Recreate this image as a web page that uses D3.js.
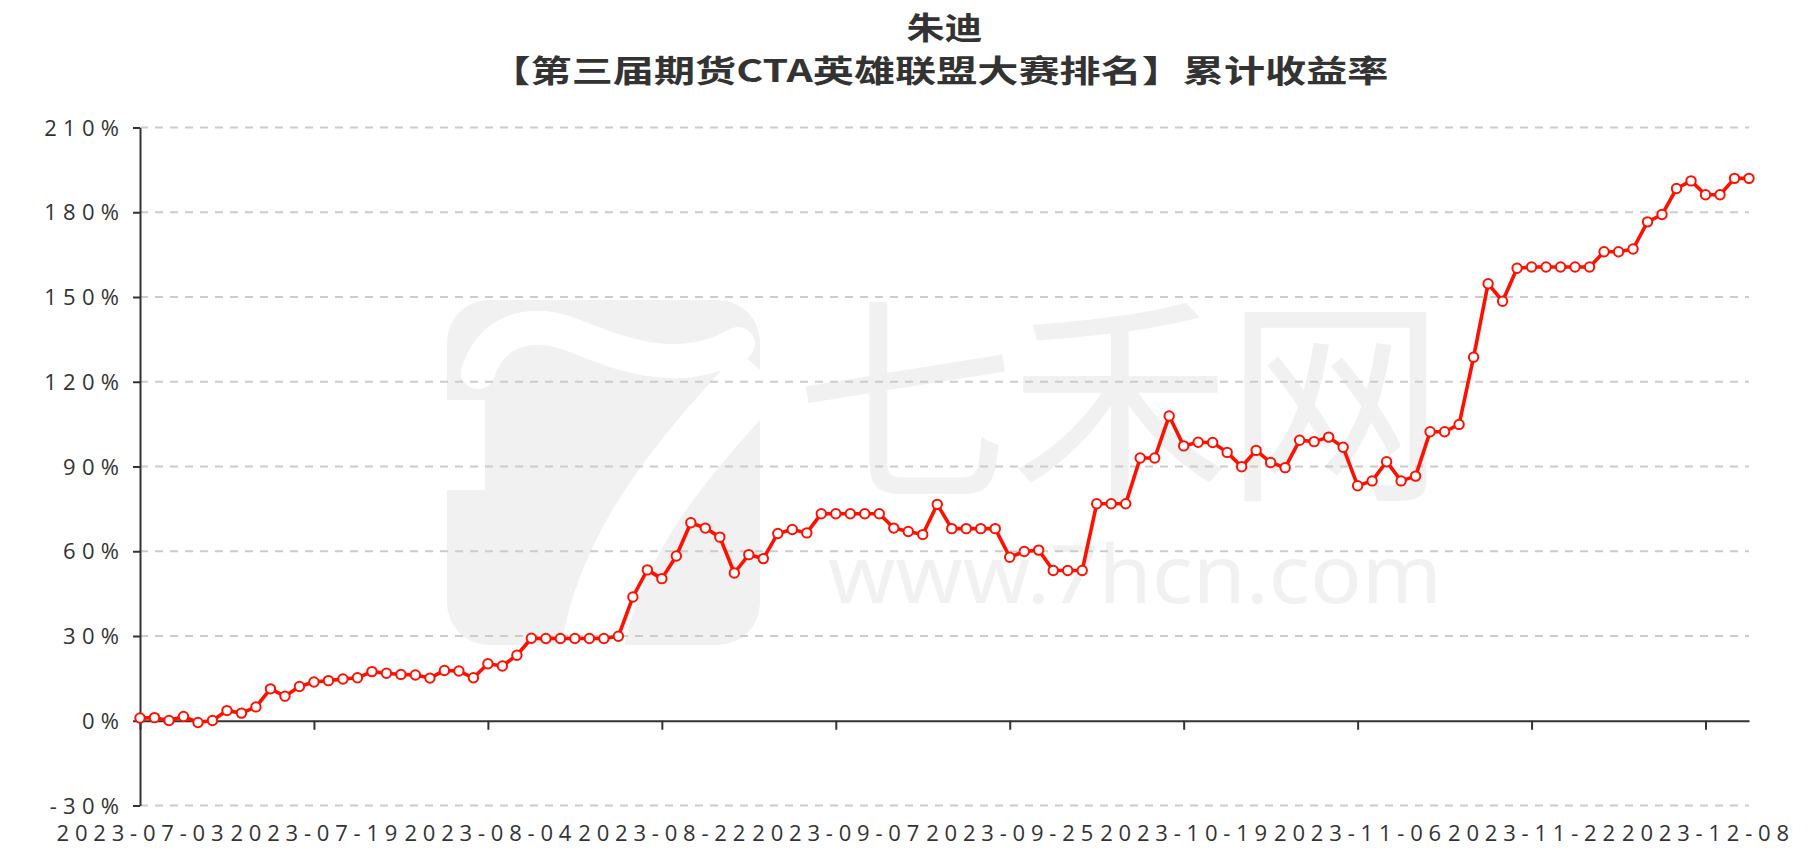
<!DOCTYPE html>
<html>
<head>
<meta charset="utf-8">
<script src="https://cdn.jsdelivr.net/npm/d3@7"></script>
<style>
  html, body { margin: 0; padding: 0; background: #fff; }
  svg { display: block; }
</style>
</head>
<body>
<svg id="chart" width="1817" height="861"></svg>
<script>
const titleLine1 = "朱迪";
const titleLine2 = "【第三届期货CTA英雄联盟大赛排名】累计收益率";

const dates = [
  "2023-07-03","2023-07-04","2023-07-05","2023-07-06","2023-07-07","2023-07-10","2023-07-11","2023-07-12",
  "2023-07-13","2023-07-14","2023-07-17","2023-07-18","2023-07-19","2023-07-20","2023-07-21","2023-07-24",
  "2023-07-25","2023-07-26","2023-07-27","2023-07-28","2023-07-31","2023-08-01","2023-08-02","2023-08-03",
  "2023-08-04","2023-08-07","2023-08-08","2023-08-09","2023-08-10","2023-08-11","2023-08-14","2023-08-15",
  "2023-08-16","2023-08-17","2023-08-18","2023-08-21","2023-08-22","2023-08-23","2023-08-24","2023-08-25",
  "2023-08-28","2023-08-29","2023-08-30","2023-08-31","2023-09-01","2023-09-04","2023-09-05","2023-09-06",
  "2023-09-07","2023-09-08","2023-09-11","2023-09-12","2023-09-13","2023-09-14","2023-09-15","2023-09-18",
  "2023-09-19","2023-09-20","2023-09-21","2023-09-22","2023-09-25","2023-09-26","2023-09-27","2023-09-28",
  "2023-10-09","2023-10-10","2023-10-11","2023-10-12","2023-10-13","2023-10-16","2023-10-17","2023-10-18",
  "2023-10-19","2023-10-20","2023-10-23","2023-10-24","2023-10-25","2023-10-26","2023-10-27","2023-10-30",
  "2023-10-31","2023-11-01","2023-11-02","2023-11-03","2023-11-06","2023-11-07","2023-11-08","2023-11-09",
  "2023-11-10","2023-11-13","2023-11-14","2023-11-15","2023-11-16","2023-11-17","2023-11-20","2023-11-21",
  "2023-11-22","2023-11-23","2023-11-24","2023-11-27","2023-11-28","2023-11-29","2023-11-30","2023-12-01",
  "2023-12-04","2023-12-05","2023-12-06","2023-12-07","2023-12-08","2023-12-11","2023-12-12","2023-12-13"
];

const returns = [
  1.0, 1.1, 0.1, 1.5, -0.6, 0.1, 3.6, 2.7, 4.9, 11.3, 8.7, 12.1,
  13.7, 14.2, 14.8, 15.2, 17.4, 16.8, 16.4, 16.2, 15.1, 17.8, 17.6, 15.2,
  20.2, 19.4, 23.2, 29.2, 29.1, 29.1, 29.1, 29.1, 29.1, 29.9, 43.8, 53.4,
  50.3, 58.3, 70.1, 68.2, 65.0, 52.3, 58.8, 57.4, 66.3, 67.7, 66.5, 73.3,
  73.3, 73.3, 73.3, 73.3, 68.2, 67.0, 65.9, 76.6, 68.0, 68.0, 68.0, 68.0,
  57.9, 59.9, 60.4, 53.2, 53.2, 53.2, 76.8, 76.8, 76.8, 93.0, 93.0, 107.9,
  97.3, 98.6, 98.5, 95.0, 89.9, 95.7, 91.4, 89.6, 99.3, 98.8, 100.4, 96.8,
  83.2, 84.9, 91.7, 84.9, 86.6, 102.3, 102.3, 104.9, 128.7, 154.7, 148.5, 160.2,
  160.6, 160.6, 160.6, 160.6, 160.6, 166.0, 166.0, 167.0, 176.6, 179.2, 188.4, 191.1,
  186.2, 186.2, 192.0, 192.0
];

const yTicks = [-30, 0, 30, 60, 90, 120, 150, 180, 210];
const xLabelInterval = 12;
const watermarkCN = "七禾网";
const watermarkURL = "www.7hcn.com";

(function () {
const svg = d3.select("#chart");
const gLeft = 140, gRight = 1749, gTop = 127.5, gBottom = 805.5;

const x = d3.scalePoint().domain(dates).range([gLeft, gRight]);
const y = d3.scaleLinear().domain([-30, 210]).range([gBottom, gTop]);

// watermark
const wm = svg.append("g").attr("class", "watermark");
const wmColor = "#f1f1f1";
wm.append("rect").attr("x", 447).attr("y", 300).attr("width", 313).attr("height", 345)
  .attr("rx", 42).attr("fill", wmColor);
wm.append("path")
  .attr("d", "M 478 372 C 492 330, 530 318, 575 336 S 680 378, 738 344")
  .attr("fill", "none").attr("stroke", "#fff").attr("stroke-width", 34).attr("stroke-linecap", "round");
wm.append("path")
  .attr("d", "M 762 372 C 700 440, 612 530, 592 650")
  .attr("fill", "none").attr("stroke", "#fff").attr("stroke-width", 62);
wm.append("rect").attr("x", 447).attr("y", 400).attr("width", 38).attr("height", 90).attr("fill", "#fff");
const wmText = wm.append("text").attr("fill", wmColor);
wmText.append("tspan").attr("x", 795).attr("y", 484)
  .attr("font-family", "'Noto Sans CJK SC', sans-serif").attr("font-size", 220)
  .attr("textLength", 650).attr("lengthAdjust", "spacing")
  .text(watermarkCN);
wmText.append("tspan").attr("x", 828).attr("y", 603)
  .attr("font-family", "'Noto Sans', sans-serif").attr("font-size", 80)
  .attr("textLength", 614).attr("lengthAdjust", "spacingAndGlyphs")
  .text(watermarkURL);

// grid lines
svg.append("g").selectAll("line").data(yTicks.filter(d => d !== 0)).join("line")
  .attr("x1", gLeft).attr("x2", gRight)
  .attr("y1", d => y(d)).attr("y2", d => y(d))
  .attr("stroke", "#ccc").attr("stroke-width", 2).attr("stroke-dasharray", "8,7");

// y axis
const yLetter = 6.3;
const yAxis = svg.append("g").attr("transform", `translate(${gLeft},0)`)
  .call(d3.axisLeft(y).tickValues(yTicks).tickSize(7).tickSizeOuter(0).tickPadding(7.7).tickFormat(d => d + "%"));
yAxis.select(".domain").attr("stroke", "#333").attr("stroke-width", 2);
yAxis.selectAll(".tick line").attr("stroke", "#333").attr("stroke-width", 2);
yAxis.selectAll(".tick text")
  .attr("font-family", "'Open Sans', sans-serif").attr("font-size", 22)
  .attr("fill", "#333").attr("dy", "0.35em").attr("letter-spacing", yLetter);

// x axis at zero
const tickDates = dates.filter((d, i) => i % xLabelInterval === 0);
const xAxis = svg.append("g").attr("transform", `translate(0,${y(0)})`)
  .call(d3.axisBottom(x).tickValues(tickDates).tickSize(9).tickSizeOuter(0).tickFormat(""));
xAxis.select(".domain").attr("stroke", "#333").attr("stroke-width", 2);
xAxis.selectAll(".tick line").attr("stroke", "#333").attr("stroke-width", 2);

// x labels at bottom
const xLetter = 5.8;
svg.append("g").selectAll("text").data(tickDates).join("text")
  .attr("x", d => x(d) + xLetter / 2).attr("y", 832)
  .attr("text-anchor", "middle").attr("dominant-baseline", "central")
  .attr("font-family", "'Open Sans', sans-serif").attr("font-size", 22)
  .attr("letter-spacing", xLetter)
  .attr("fill", "#333").text(d => d);

// line
const pts = dates.map((d, i) => [d, returns[i]]);
svg.append("path").datum(pts)
  .attr("d", d3.line().x(d => x(d[0])).y(d => y(d[1])))
  .attr("fill", "none").attr("stroke", "#ff1000").attr("stroke-width", 3.6)
  .attr("stroke-linejoin", "round");
svg.append("g").selectAll("circle").data(pts).join("circle")
  .attr("cx", d => x(d[0])).attr("cy", d => y(d[1])).attr("r", 4.7)
  .attr("fill", "#fff").attr("stroke", "#ff1000").attr("stroke-width", 2);

// titles
svg.append("text").attr("x", 944.5).attr("y", 25)
  .attr("text-anchor", "middle").attr("dominant-baseline", "central")
  .attr("font-family", "'Noto Sans CJK SC', sans-serif").attr("font-weight", "bold")
  .attr("font-size", 31).attr("fill", "#333")
  .attr("textLength", 76).attr("lengthAdjust", "spacingAndGlyphs").text(titleLine1);
svg.append("text").attr("x", 939).attr("y", 68)
  .attr("text-anchor", "middle").attr("dominant-baseline", "central")
  .attr("font-family", "'Noto Sans CJK SC', sans-serif").attr("font-weight", "bold")
  .attr("font-size", 31).attr("fill", "#333")
  .attr("textLength", 899).attr("lengthAdjust", "spacingAndGlyphs").text(titleLine2);
})();
</script>
</body>
</html>
